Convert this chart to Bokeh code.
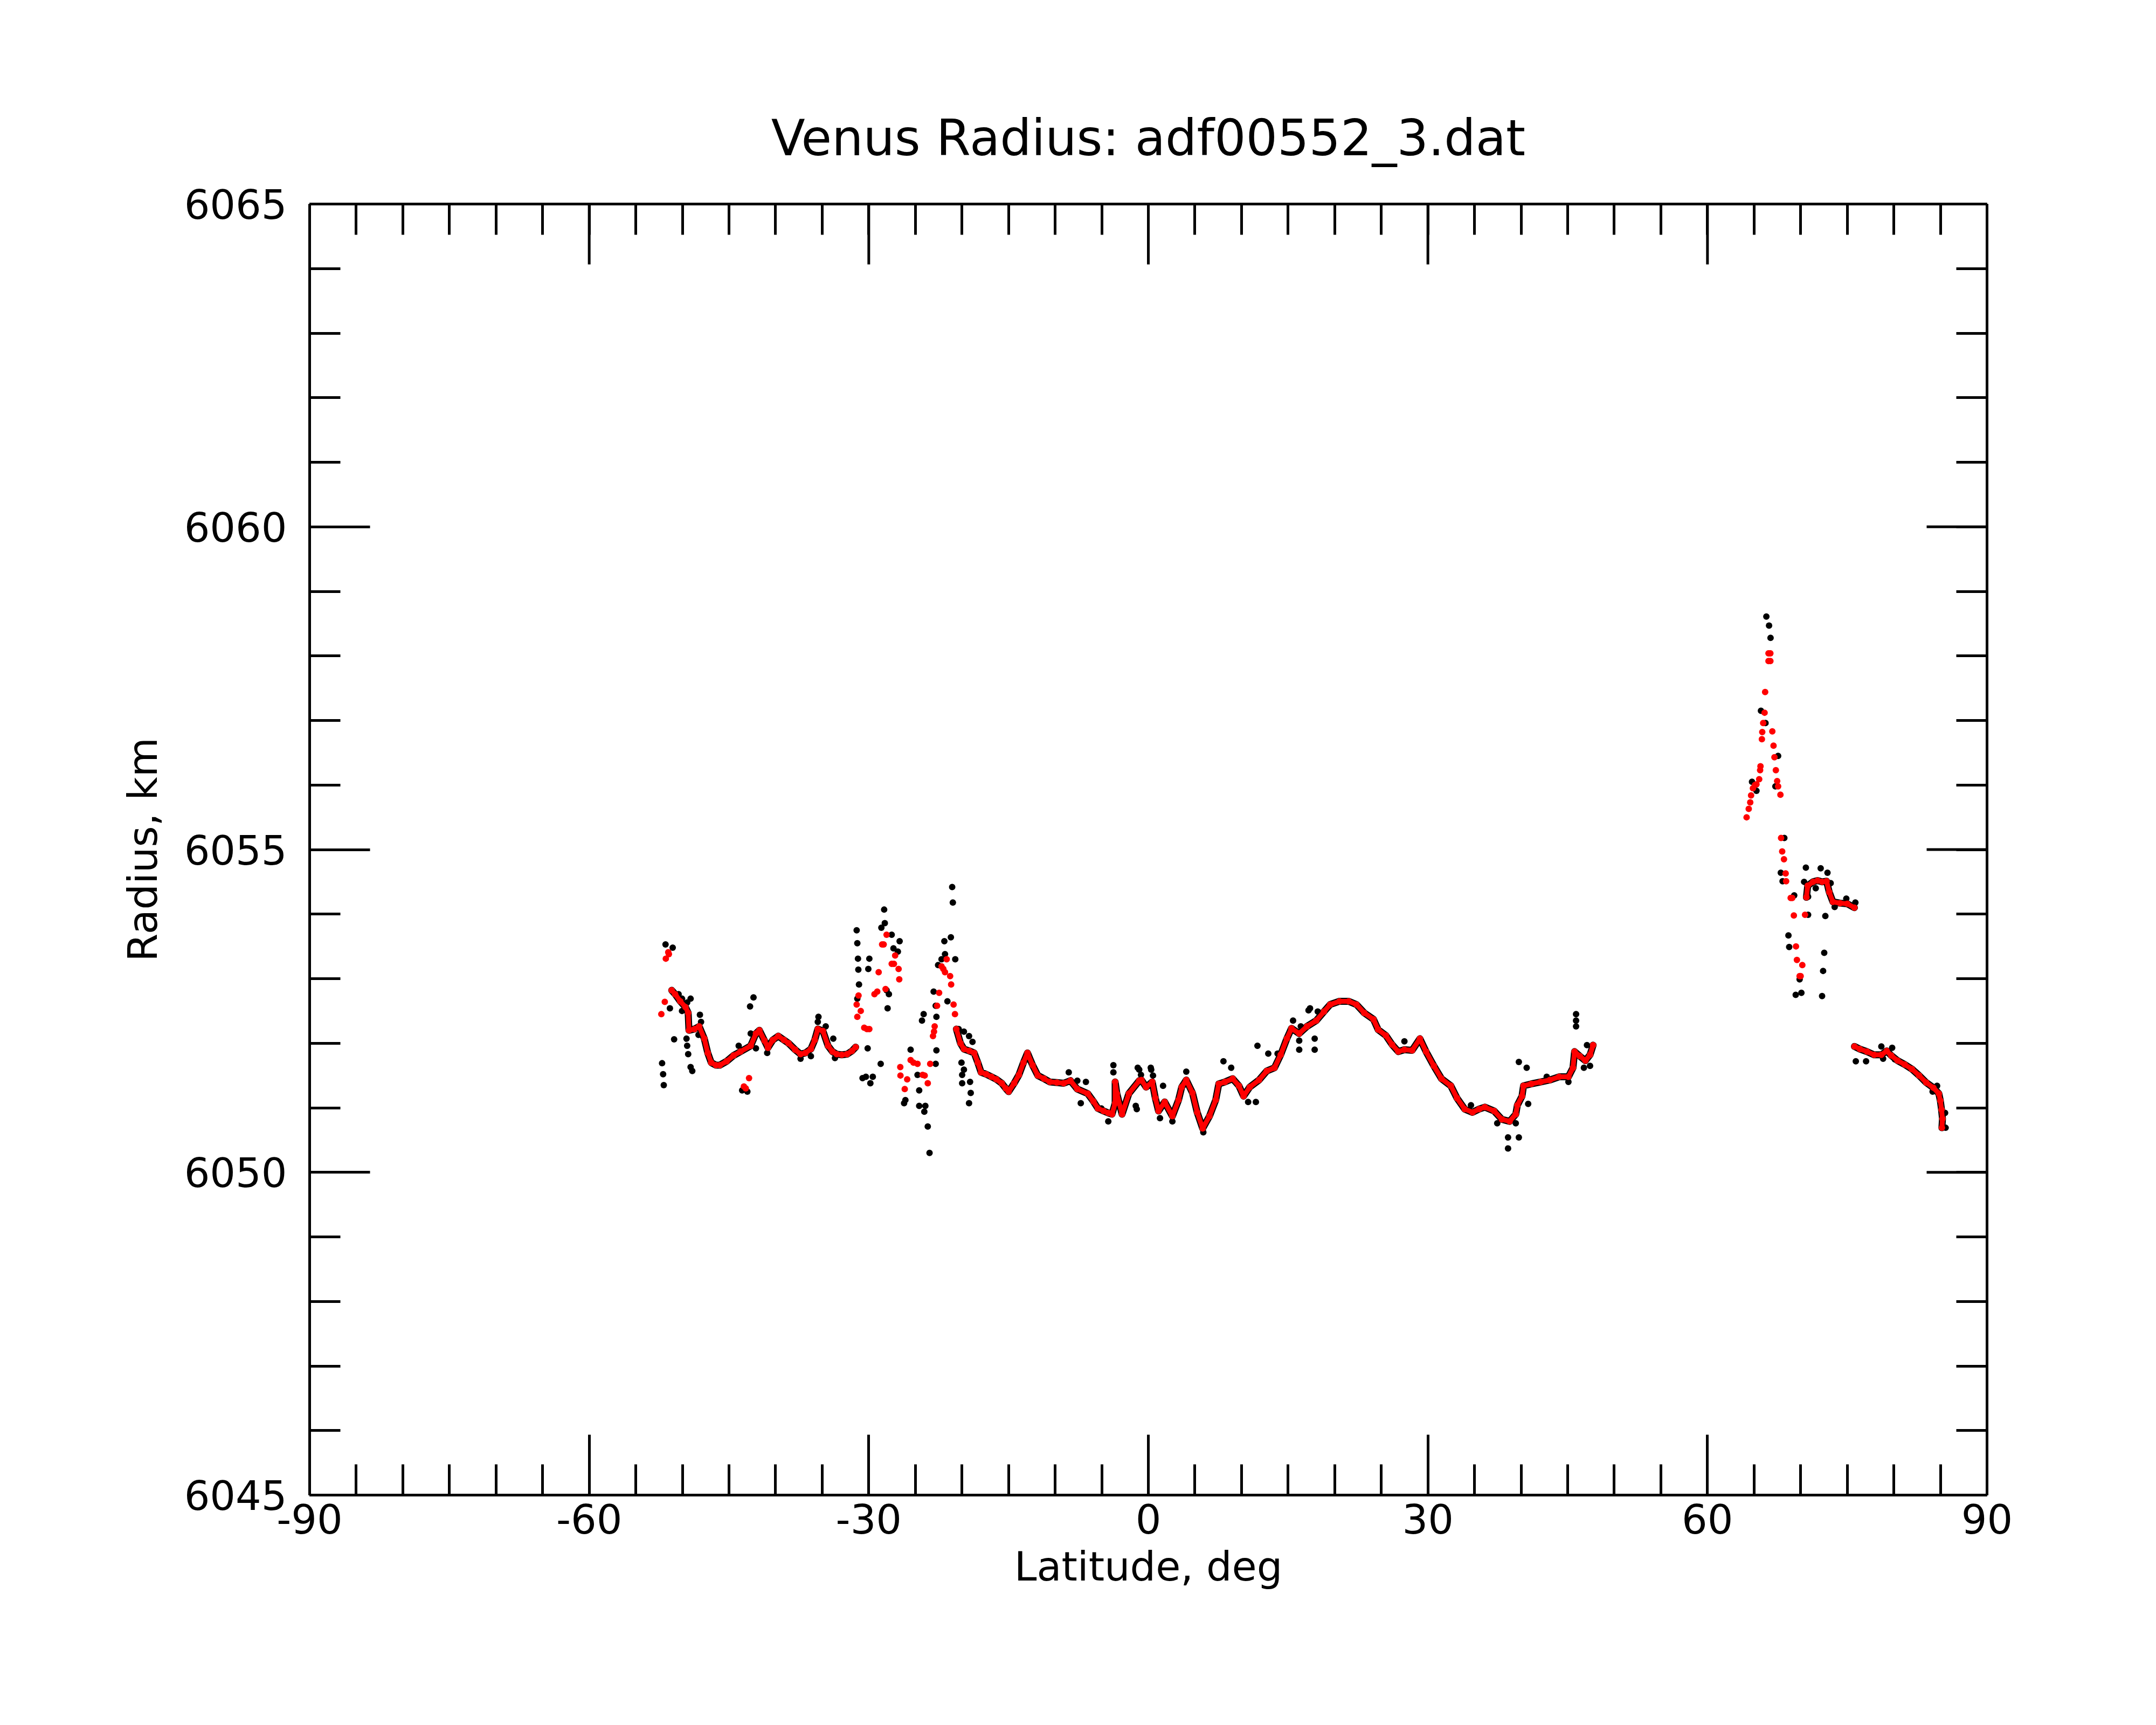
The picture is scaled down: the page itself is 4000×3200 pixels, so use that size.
from bokeh.plotting import figure
from bokeh.models import Range1d, LinearAxis, FixedTicker
from bokeh.embed import file_html
from bokeh.resources import INLINE

FONT = "DejaVu Sans"
TITLE = "Venus Radius: adf00552_3.dat"
X_LABEL = "Latitude, deg"
Y_LABEL = "Radius, km"

x_major_ticks = [-90, -60, -30, 0, 30, 60, 90]
x_tick_labels = ["-90", "-60", "-30", "0", "30", "60", "90"]
x_minor_ticks = [-90, -85, -80, -75, -70, -65, -60, -55, -50, -45, -40, -35, -30, -25, -20, -15, -10, -5,
                 0, 5, 10, 15, 20, 25, 30, 35, 40, 45, 50, 55, 60, 65, 70, 75, 80, 85, 90]
y_major_ticks = [6045, 6050, 6055, 6060, 6065]
y_tick_labels = ["6045", "6050", "6055", "6060", "6065"]
y_minor_ticks = [6045, 6046, 6047, 6048, 6049, 6050, 6051, 6052, 6053, 6054, 6055,
                 6056, 6057, 6058, 6059, 6060, 6061, 6062, 6063, 6064, 6065]

# ---- smoothed radius (red), continuous stretches ----
red_seg1_lat = [-51.15, -50.78, -50.23, -49.67, -49.38, -49.3, -48.7, -48.2, -47.65, -47.28, -46.91, -46.4,
                -45.99, -45.25, -44.51, -43.77, -42.67, -42.11, -41.74, -41.19, -40.82, -40.3, -39.71,
                -39.1, -38.61, -37.9, -37.32, -36.8, -36.21, -35.8, -35.47, -34.92, -34.37, -33.9, -33.44,
                -32.9, -32.33, -31.8, -31.41]
red_seg1_rad = [6052.82, 6052.76, 6052.65, 6052.56, 6052.47, 6052.2, 6052.22, 6052.26, 6052.07, 6051.85,
                6051.7, 6051.66, 6051.66, 6051.72, 6051.81, 6051.87, 6051.96, 6052.15, 6052.2, 6052.04,
                6051.93, 6052.05, 6052.11, 6052.05, 6052.0, 6051.9, 6051.83, 6051.85, 6051.91, 6052.05,
                6052.22, 6052.19, 6051.96, 6051.87, 6051.83, 6051.82, 6051.83, 6051.88, 6051.94]

red_seg2_lat = [-20.6, -20.16, -19.79, -19.2, -18.69, -18.3, -17.95, -17.4, -16.84, -16.3, -15.73, -15.3,
                -14.99, -14.4, -13.89, -13.4, -12.97, -12.42, -11.86, -11.2, -10.57, -9.8, -9.09, -8.36,
                -7.62, -6.51, -5.9, -5.41, -4.8, -4.3, -3.9, -3.56, -3.56, -3.38, -2.82, -2.09, -0.98,
                -0.74, -0.24, 0.42, 0.75, 1.09, 1.75, 2.58, 3.24, 3.58, 4.07, 4.74, 5.24, 5.83, 6.56,
                7.23, 7.56, 8.22, 9.05, 9.72, 10.22, 10.88, 11.88, 12.71, 13.54, 14.2, 14.86, 15.36,
                16.19, 17.02, 18.02, 18.85, 19.51, 20.51, 21.5, 22.33, 23.17, 24.16, 24.66, 25.49,
                26.15, 26.82, 27.48, 28.31, 29.14, 29.8, 30.63, 31.46, 32.46, 33.12, 33.95, 34.78,
                35.5, 36.11, 37.11, 37.94, 38.77, 39.43, 39.6, 40.1, 40.26, 41.09, 42.09, 43.08,
                44.08, 45.08, 45.57, 45.74, 46.3, 46.9, 47.4, 47.73]
red_seg2_rad = [6052.22, 6052.0, 6051.91, 6051.88, 6051.85, 6051.7, 6051.55, 6051.52, 6051.48, 6051.44,
                6051.38, 6051.3, 6051.25, 6051.38, 6051.51, 6051.7, 6051.85, 6051.66, 6051.5, 6051.45,
                6051.4, 6051.39, 6051.38, 6051.42, 6051.29, 6051.22, 6051.1, 6050.99, 6050.95, 6050.92,
                6050.9, 6051.07, 6051.4, 6051.22, 6050.9, 6051.22, 6051.42, 6051.43, 6051.32, 6051.4,
                6051.15, 6050.95, 6051.09, 6050.87, 6051.12, 6051.32, 6051.43, 6051.23, 6050.93,
                6050.68, 6050.87, 6051.12, 6051.37, 6051.4, 6051.45, 6051.34, 6051.18, 6051.32,
                6051.43, 6051.57, 6051.62, 6051.82, 6052.07, 6052.23, 6052.15, 6052.26, 6052.35,
                6052.49, 6052.6, 6052.65, 6052.65, 6052.6, 6052.47, 6052.37, 6052.21, 6052.12,
                6051.98, 6051.87, 6051.9, 6051.89, 6052.07, 6051.87, 6051.65, 6051.45, 6051.34,
                6051.15, 6050.98, 6050.93, 6050.98, 6051.01, 6050.95, 6050.82, 6050.79, 6050.9,
                6051.04, 6051.18, 6051.34, 6051.37, 6051.4, 6051.43, 6051.48, 6051.48, 6051.62,
                6051.87, 6051.8, 6051.73, 6051.82, 6051.97]

red_seg3_lat = [70.62, 70.76, 71.33, 71.82, 72.3, 72.78, 73.07, 73.46, 74.23, 75.0, 75.77]
red_seg3_rad = [6054.26, 6054.44, 6054.5, 6054.52, 6054.5, 6054.51, 6054.34, 6054.19, 6054.17, 6054.16,
                6054.1]

red_seg4_lat = [75.77, 76.35, 77.12, 77.89, 78.66, 79.24, 79.72, 80.4, 81.17, 81.94, 82.71, 83.48, 84.25,
                84.83, 84.99, 85.12, 85.22, 85.16]
red_seg4_rad = [6051.95, 6051.91, 6051.87, 6051.82, 6051.82, 6051.88, 6051.81, 6051.73, 6051.67, 6051.6,
                6051.5, 6051.39, 6051.31, 6051.22, 6051.11, 6050.97, 6050.83, 6050.69]

# ---- smoothed radius (red), isolated points ----
red_dot_lat = [-52.26, -51.89, -51.78, -51.52, -51.45, -43.4, -43.2, -42.85,
               -31.3, -31.23, -31.1, -30.86, -30.49, -30.2, -29.94, -29.39, -29.09, -28.94, -28.57, -28.4,
               -28.2, -28.09, -27.54, -27.3, -27.17, -26.8, -26.73,
               -26.62, -26.6, -26.14, -25.88, -25.51, -25.2, -24.77, -24.22, -24.0, -23.67, -23.41,
               -23.11, -23.0, -22.93, -22.67, -22.45, -22.19, -22.0, -21.82, -21.64, -21.27, -21.16,
               -20.9, -20.75,
               64.2, 64.43, 64.59, 64.68, 64.88, 65.1, 65.26, 65.55, 65.65, 65.69, 65.84, 65.88, 65.98,
               66.13, 66.19, 66.55, 66.75, 66.55, 66.75, 66.96, 67.09, 67.19, 67.34, 67.48, 67.58,
               67.83, 67.9, 68.02, 68.21, 68.39, 68.44, 68.93, 69.1, 69.27, 69.5, 69.6, 69.89, 70.0,
               70.18, 70.47]
red_dot_rad = [6052.45, 6052.64, 6053.31, 6053.41, 6053.38, 6051.33, 6051.3, 6051.46,
               6052.6, 6052.41, 6052.74, 6052.5, 6052.24, 6052.22, 6052.22, 6052.76, 6052.8, 6053.1,
               6053.53, 6053.53, 6052.84, 6053.68, 6053.23, 6053.23, 6053.36, 6053.15, 6052.99,
               6051.63, 6051.5, 6051.29, 6051.44, 6051.74, 6051.7, 6051.68, 6051.51, 6051.5, 6051.38,
               6051.68, 6052.11, 6052.18, 6052.26, 6052.58, 6052.78, 6053.19, 6053.15, 6053.1,
               6053.3, 6053.04, 6052.91, 6052.6, 6052.45,
               6055.5, 6055.63, 6055.73, 6055.84, 6055.95, 6056.0, 6056.01, 6056.09, 6056.23, 6056.29,
               6056.71, 6056.82, 6056.96, 6057.12, 6057.44, 6057.92, 6057.92, 6058.04, 6058.04,
               6056.83, 6056.61, 6056.43, 6056.23, 6056.06, 6055.98, 6055.85, 6055.18, 6054.97,
               6054.85, 6054.63, 6054.51, 6054.25, 6054.25, 6053.98, 6053.5, 6053.29, 6053.04,
               6053.04, 6053.21, 6053.99]

# ---- raw radius (black) ----
black_lat = [-52.18, -52.07, -52.0, -51.81, -51.04, -50.41, -50.04, -49.12, -49.49, -51.34, -50.04,
             -50.89, -49.56, -49.49, -49.38, -49.12, -48.94, -48.12, -48.0, -48.27, -43.96, -43.59,
             -43.03, -42.74, -42.37, -42.67, -42.11, -40.9, -37.32, -36.21, -35.4, -35.47, -34.62,
             -33.81, -33.63, -31.3, -31.23, -31.16, -31.12, -31.05, -31.23, -30.67, -30.31, -29.83,
             -29.57, -30.12, -29.94, -30.05, -28.72, -28.35, -28.28, -28.65, -27.54, -26.69, -27.35,
             -26.88, -27.84, -27.98, -28.09, -26.21, -26.07, -25.51, -24.77, -24.59, -24.59, -23.93,
             -24.04, -23.67, -23.48, -24.29, -24.11, -23.04, -22.82, -22.74, -22.74, -22.82, -22.56,
             -22.19, -21.82, -21.89, -21.19, -21.05, -20.98, -20.72, -21.56, -20.35, -19.79, -19.24,
             -18.87, -20.05, -19.79, -19.98, -19.98, -19.13, -19.06, -19.24, -8.54, -7.62, -6.7,
             -7.25, -5.04, -4.3, -3.75, -3.75, -1.35, -0.98, -0.79, 0.31, 0.5,
             -1.14, 0.26, -1.24, 1.58, 4.07, 8.06, 8.89, 12.87, 13.87, 15.53, 16.36, 17.35, 18.18,
             27.48, 34.62, 39.76, 40.6, 40.76, 42.75, 45.08, 46.74, 47.4, 5.9, 10.71, 11.54, 2.58,
             1.25, 37.44, 39.43, 45.9, 45.9, 45.9, 38.6, 38.6, 39.76, 11.71, 17.85, 17.85, 16.19,
             16.19, 17.19, 47.07,
             66.32, 66.61, 66.77, 65.74, 66.23, 67.58, 64.78, 65.26, 67.29, 68.25, 67.87, 68.06,
             69.31, 70.56, 70.37, 72.15, 72.88, 73.22, 71.62, 70.8, 70.8, 72.65, 73.65, 74.9, 75.87,
             68.69, 68.77, 72.53, 72.41, 69.89, 69.47, 70.08, 72.3, 75.92, 77.02, 78.66, 79.82,
             78.85, 80.11, 84.16, 84.64, 85.5, 85.56]
black_rad = [6051.69, 6051.52, 6051.35, 6053.53, 6053.48, 6052.76, 6052.69, 6052.69, 6052.63, 6052.54,
             6052.5, 6052.06, 6052.07, 6051.96, 6051.83, 6051.63, 6051.57, 6052.44, 6052.33, 6052.13,
             6051.96, 6051.27, 6051.25, 6052.57, 6052.71, 6052.15, 6051.92, 6051.85, 6051.76, 6051.8,
             6052.41, 6052.33, 6052.26, 6052.07, 6051.77, 6053.75, 6053.55, 6053.31, 6053.14,
             6052.91, 6052.69, 6051.46, 6051.48, 6051.38, 6051.48, 6051.92, 6053.31, 6053.15,
             6051.68, 6054.07, 6053.86, 6053.79, 6053.68, 6053.58, 6053.47, 6053.42, 6052.76,
             6052.54, 6052.82, 6051.07, 6051.12, 6051.9, 6051.51, 6051.27, 6051.03, 6051.03,
             6050.94, 6050.71, 6050.3, 6052.35, 6052.45, 6052.8, 6052.58, 6052.41, 6051.89, 6051.68,
             6053.21, 6053.3, 6053.38, 6053.58, 6053.64, 6054.42, 6054.18, 6053.3, 6052.65, 6052.22,
             6052.18, 6052.11, 6052.02, 6051.7, 6051.59, 6051.51, 6051.38, 6051.4, 6051.23, 6051.07,
             6051.55, 6051.42, 6051.4, 6051.07, 6050.99, 6050.79, 6051.66, 6051.55, 6051.03,
             6051.59, 6051.51, 6051.59, 6051.5,
             6051.62, 6051.62, 6050.98, 6051.34, 6051.56, 6051.72, 6051.62, 6051.84, 6051.84,
             6052.35, 6052.26, 6052.54, 6052.49, 6052.03, 6051.04, 6051.71, 6051.62, 6051.06,
             6051.48, 6051.4, 6051.62, 6051.65, 6050.62, 6051.09, 6051.09, 6050.79, 6050.84,
             6050.76, 6050.76, 6052.45, 6052.35, 6052.26, 6050.54, 6050.37, 6050.54, 6051.96,
             6052.07, 6051.9, 6052.04, 6051.9, 6052.51, 6051.97,
             6058.61, 6058.47, 6058.28, 6057.15, 6056.96, 6056.45, 6056.05, 6055.91, 6055.98,
             6055.18, 6054.64, 6054.51, 6054.29, 6054.72, 6054.5, 6054.71, 6054.64, 6054.48, 6054.4,
             6054.27, 6053.99, 6053.97, 6054.11, 6054.24, 6054.18, 6053.67, 6053.49, 6053.4,
             6053.12, 6052.99, 6052.75, 6052.78, 6052.73, 6051.72, 6051.72, 6051.95, 6051.93,
             6051.76, 6051.75, 6051.25, 6051.34, 6050.92, 6050.69]

X0, X1 = -90, 90
Y0, Y1 = 6045, 6065
FRAME_W, FRAME_H = 3112, 2395
BORDER_L, BORDER_T = 574, 378
W, H = 3984, 3184
MAJOR_LEN, MINOR_LEN = 112, 57

p = figure(width=W, height=H, x_range=Range1d(X0, X1), y_range=Range1d(Y0, Y1),
           x_axis_type=None, y_axis_type=None, output_backend="svg", toolbar_location=None,
           min_border_left=BORDER_L, min_border_right=W - BORDER_L - FRAME_W,
           min_border_top=BORDER_T, min_border_bottom=H - BORDER_T - FRAME_H,
           background_fill_color="white", border_fill_color="white")
p.outline_line_color = None

p.title.text = TITLE
p.title.align = "center"
p.title.text_font = FONT
p.title.text_font_size = "92px"
p.title.text_font_style = "normal"
p.title.text_color = "black"
p.title.standoff = 138


def style_axis(ax):
    ax.axis_line_width = 5
    ax.axis_line_color = "black"
    ax.major_tick_line_width = 5
    ax.minor_tick_line_width = 5
    ax.major_tick_in = MAJOR_LEN
    ax.major_tick_out = 0
    ax.minor_tick_in = MINOR_LEN
    ax.minor_tick_out = 0
    return ax


def labelled_axis(major, labels, minor, label):
    ax = style_axis(LinearAxis(ticker=FixedTicker(ticks=major, minor_ticks=minor)))
    ax.major_label_overrides = dict(zip(major, labels))
    ax.major_label_text_font = FONT
    ax.major_label_text_font_size = "75px"
    ax.major_label_text_color = "black"
    ax.axis_label = label
    ax.axis_label_text_font = FONT
    ax.axis_label_text_font_size = "75px"
    ax.axis_label_text_font_style = "normal"
    ax.axis_label_text_color = "black"
    return ax


def mirror_axis(minor):
    # mirrored side: minor ticks only (no labels); major ticks drawn as segments below
    return style_axis(LinearAxis(ticker=FixedTicker(ticks=[], minor_ticks=minor)))


ax_b = labelled_axis(x_major_ticks, x_tick_labels, x_minor_ticks, X_LABEL)
ax_b.major_label_standoff = 16
ax_b.axis_label_standoff = 14
ax_l = labelled_axis(y_major_ticks, y_tick_labels, y_minor_ticks, Y_LABEL)
ax_l.major_label_standoff = 42
ax_l.axis_label_standoff = 30
p.add_layout(ax_b, "below")
p.add_layout(ax_l, "left")
p.add_layout(mirror_axis(x_minor_ticks), "above")
p.add_layout(mirror_axis(y_minor_ticks), "right")

# long (major) ticks on the mirrored top and right sides
dy = MAJOR_LEN * (Y1 - Y0) / FRAME_H
dx = MAJOR_LEN * (X1 - X0) / FRAME_W
p.segment(x0=x_major_ticks, y0=[Y1] * len(x_major_ticks), x1=x_major_ticks,
          y1=[Y1 - dy] * len(x_major_ticks), line_color="black", line_width=5, line_cap="butt")
p.segment(x0=[X1] * len(y_major_ticks), y0=y_major_ticks, x1=[X1 - dx] * len(y_major_ticks),
          y1=y_major_ticks, line_color="black", line_width=5, line_cap="butt")

red_segments = [(red_seg1_lat, red_seg1_rad), (red_seg2_lat, red_seg2_rad),
                (red_seg3_lat, red_seg3_rad), (red_seg4_lat, red_seg4_rad)]

for xs, ys in red_segments:
    p.line(xs, ys, line_color="black", line_width=13, line_join="round", line_cap="round")
p.scatter(black_lat, black_rad, marker="circle", size=12, fill_color="black", line_color=None)
for xs, ys in red_segments:
    p.line(xs, ys, line_color="#ff0000", line_width=9, line_join="round", line_cap="round")
    p.scatter(xs, ys, marker="circle", size=12, fill_color="#ff0000", line_color=None)
p.scatter(red_dot_lat, red_dot_rad, marker="circle", size=12, fill_color="#ff0000", line_color=None)

open("out.html", "w").write(file_html(p, INLINE))
